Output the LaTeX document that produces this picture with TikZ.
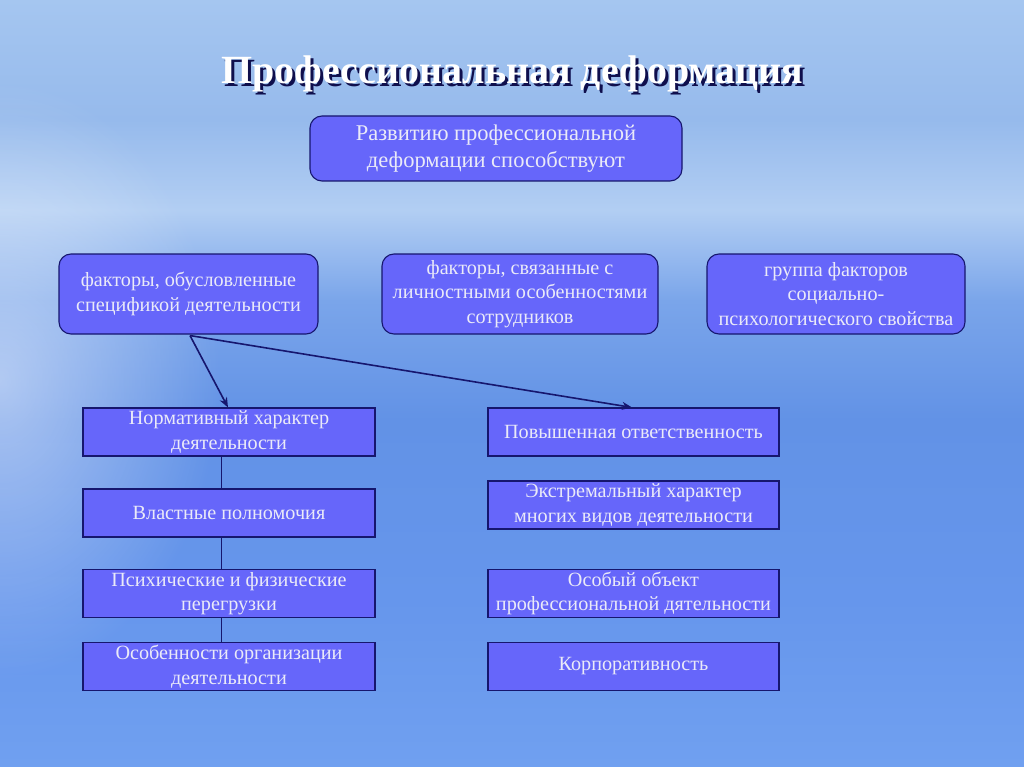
\documentclass[tikz,border=0pt]{standalone}
\usepackage{fontspec}
\setmainfont{Liberation Serif}
\usetikzlibrary{arrows.meta,fadings}
\definecolor{boxfill}{RGB}{102,102,250}
\definecolor{navy}{RGB}{22,22,110}
\definecolor{txt}{RGB}{234,234,248}
\tikzfading[name=softglow, inner color=transparent!20, outer color=transparent!100]
\pgfdeclareverticalshading{sky}{100bp}{%
  color(0bp)=(rgb,255:red,112;green,160;blue,240);
  color(25bp)=(rgb,255:red,112;green,160;blue,240);
  color(36bp)=(rgb,255:red,102;green,150;blue,236);
  color(47.6bp)=(rgb,255:red,98;green,146;blue,230);
  color(55.4bp)=(rgb,255:red,122;green,165;blue,234);
  color(61.3bp)=(rgb,255:red,178;green,206;blue,243);
  color(67.2bp)=(rgb,255:red,150;green,186;blue,236);
  color(75bp)=(rgb,255:red,165;green,198;blue,240);
  color(100bp)=(rgb,255:red,165;green,198;blue,240)}
\tikzset{
  base/.style={fill=boxfill, draw=navy, line width=1.1pt, text=txt, align=center,
    inner sep=0pt, font=\fontsize{20.2}{24.5}\selectfont},
  rbox/.style={base, rounded corners=12pt},
  sbox/.style={base},
  conn/.style={draw=navy, line width=1.6pt},
  arr/.style={conn, -{Stealth[length=10pt,width=8pt]}},
  vline/.style={draw=navy, line width=0.8pt}
}
\begin{document}
\begin{tikzpicture}[x=1pt,y=-1pt]
\useasboundingbox (0,0) rectangle (1024,767);
\shade[shading=sky] (0,0) rectangle (1024,767);
\fill[white, path fading=softglow, fill opacity=0.6] (0,380) ellipse [x radius=220pt, y radius=300pt];
% title
\node[text=navy!70!black, font=\fontsize{40}{44}\selectfont\bfseries] at (515.5,77) {Профессиональная деформация};
\node (title) [text=white, font=\fontsize{40}{44}\selectfont\bfseries] at (512.5,74) {Профессиональная деформация};
% top box
\node (top) [rbox, minimum width=372pt, minimum height=65pt, font=\fontsize{22.5}{27}\selectfont] at (496,148.5)
  {Развитию профессиональной\\деформации способствуют};
% row 2
\node (A) [rbox, minimum width=259pt, minimum height=80pt] at (188.5,294)
  {факторы, обусловленные\\спецификой деятельности};
\node (B) [rbox, minimum width=276pt, minimum height=80pt] at (520,294)
  {факторы, связанные с\\личностными особенностями\\сотрудников};
\node (C) [rbox, minimum width=258pt, minimum height=80pt] at (836,294)
  {группа факторов\\социально-\\психологического свойства};
% left column
\node (L1) [sbox, minimum width=292pt, minimum height=48pt] at (229,432)
  {Нормативный характер\\деятельности};
\node (L2) [sbox, minimum width=292pt, minimum height=48pt] at (229,513)
  {Властные полномочия};
\node (L3) [sbox, minimum width=292pt, minimum height=48pt] at (229,593.5)
  {Психические и физические\\перегрузки};
\node (L4) [sbox, minimum width=292pt, minimum height=48pt] at (229,666.5)
  {Особенности организации\\деятельности};
% right column
\node (R1) [sbox, minimum width=291pt, minimum height=48pt] at (633.5,432)
  {Повышенная ответственность};
\node (R2) [sbox, minimum width=291pt, minimum height=48pt] at (633.5,505)
  {Экстремальный характер\\многих видов деятельности};
\node (R3) [sbox, minimum width=291pt, minimum height=48pt] at (633.5,593.5)
  {Особый объект\\профессиональной дятельности};
\node (R4) [sbox, minimum width=291pt, minimum height=48pt] at (633.5,666.5)
  {Корпоративность};
% connectors
\coordinate (s) at ([xshift=1.5pt,yshift=-1pt]A.south);
\draw[arr] (s) -- ([xshift=-1pt]L1.north);
\draw[arr] (s) -- ([xshift=-1.5pt]R1.north);
\draw[vline] ([xshift=-8pt]L1.south) -- ([xshift=-8pt]L2.north);
\draw[vline] ([xshift=-8pt]L2.south) -- ([xshift=-8pt]L3.north);
\draw[vline] ([xshift=-8pt]L3.south) -- ([xshift=-8pt]L4.north);
\end{tikzpicture}
\end{document}
